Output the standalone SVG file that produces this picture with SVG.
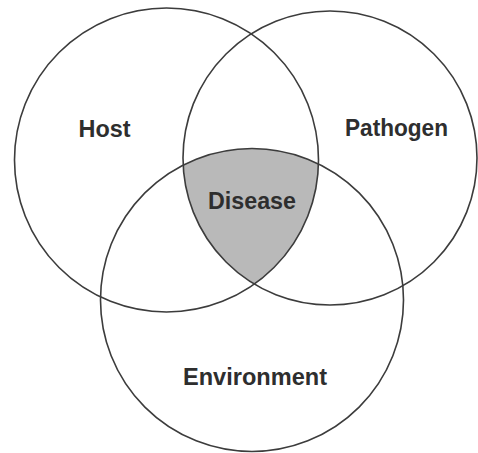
<svg xmlns="http://www.w3.org/2000/svg" width="478" height="453" viewBox="0 0 478 453">
<style>
.c{fill:none;stroke:#3c3c3c;stroke-width:1.6}
.t{font-family:"Liberation Sans",Arial,sans-serif;font-weight:bold;font-size:23px;fill:#2e2e2e;text-anchor:middle}
</style>
<defs>
<clipPath id="cpHost"><circle cx="166.5" cy="160" r="152"/></clipPath>
<clipPath id="cpPath"><circle cx="330" cy="158" r="147"/></clipPath>
</defs>
<rect width="478" height="453" fill="#ffffff"/>
<g id="disease">
<g clip-path="url(#cpHost)"><g clip-path="url(#cpPath)">
<circle cx="252" cy="300" r="151.5" fill="#b9b9b9"/>
</g></g>
<text class="t" x="252" y="209" textLength="88" lengthAdjust="spacingAndGlyphs">Disease</text>
</g>
<g id="host">
<circle class="c" cx="166.5" cy="160" r="152"/>
<text class="t" x="104.5" y="137" textLength="52" lengthAdjust="spacingAndGlyphs">Host</text>
</g>
<g id="pathogen">
<circle class="c" cx="330" cy="158" r="147"/>
<text class="t" x="396.5" y="136" textLength="103" lengthAdjust="spacingAndGlyphs">Pathogen</text>
</g>
<g id="environment">
<circle class="c" cx="252" cy="300" r="151.5"/>
<text class="t" x="255" y="385" textLength="144" lengthAdjust="spacingAndGlyphs">Environment</text>
</g>
<g id="connectors"/>
</svg>
